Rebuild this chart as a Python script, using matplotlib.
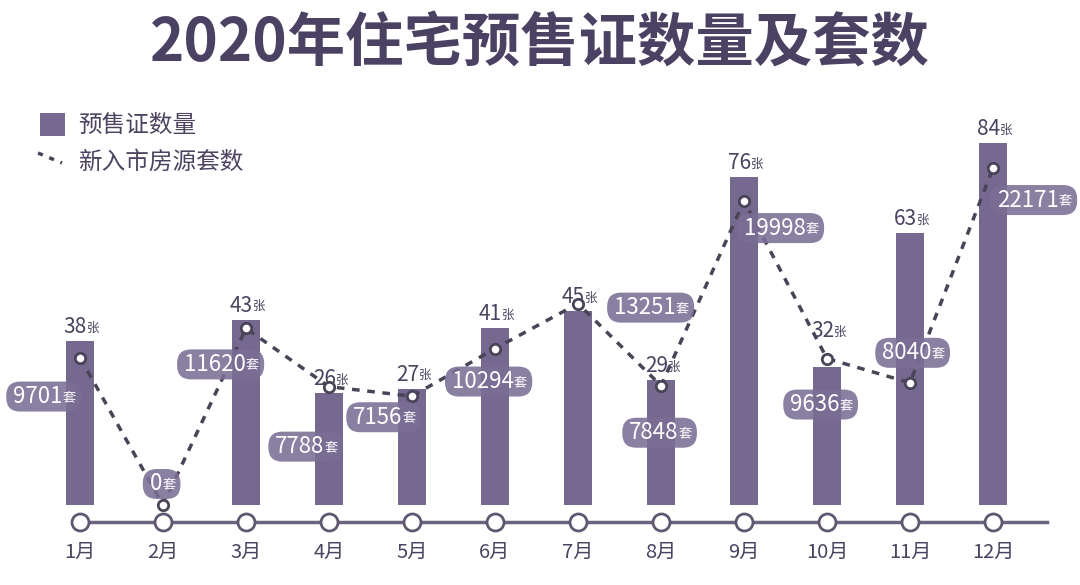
import matplotlib
matplotlib.use('Agg')
import matplotlib.pyplot as plt
from matplotlib.patches import FancyBboxPatch, Rectangle
from matplotlib.lines import Line2D
from matplotlib.transforms import IdentityTransform, Bbox

plt.rcParams['font.family'] = ['Noto Sans CJK SC', 'DejaVu Sans']

# 数据
months = ['1月', '2月', '3月', '4月', '5月', '6月', '7月', '8月', '9月', '10月', '11月', '12月']
permits = [38, 0, 43, 26, 27, 41, 45, 29, 76, 32, 63, 84]          # 预售证数量(张)
units = [9701, 0, 11620, 7788, 7156, 10294, 13251, 7848, 19998, 9636, 8040, 22171]  # 新入市房源套数

# 样式
bar_color = '#75698f'
dark = '#4b4360'
box_color = '#7a6e95'
line_color = '#4a4458'

# 标签框相对数据点的像素偏移 (dx, dy)，dy 向上为正
box_offsets = [(-35, -39), (0, 21), (-24, -36), (-22, -60), (-27, -21), (-5, -33),
               (74, -4), (0, -47), (38, -27), (-5, -46), (4, 30), (42, -32)]
bar_label_extra = [0, 0, 0, 0, 0, 0, 0, 0, 0, 22, 0, 0]

fig = plt.figure(figsize=(10.8, 5.85), dpi=100)
fig.patch.set_facecolor('white')
ax = fig.add_axes([0, 0, 1, 1])
ax2 = ax.twinx()
for a in (ax, ax2):
    a.axis('off')

x = list(range(len(months)))
ax.set_xlim(-80 / 83, 1000 / 83)
ax.set_ylim(-80 / 4.31, 505 / 4.31)
ax2.set_ylim(-80 * 65.8, 505 * 65.8)

# 柱状图
ax.bar(x, permits, width=0.33, color=bar_color, zorder=2)

# 底部时间轴
axis_y = -17 / 4.31
ax.plot([0, 11.65], [axis_y, axis_y], color='#6b6380', lw=2.5, zorder=3)
ax.scatter(x, [axis_y] * len(x), s=150, facecolor='white', edgecolor='#5f5870',
           linewidth=2, zorder=4)
for i, m in enumerate(months):
    ax.text(i, -47 / 4.31, m, ha='center', va='center', fontsize=14.5, color=dark)

# 柱顶标签
for i, v in enumerate(permits):
    if v == 0:
        continue
    num = ax.annotate(str(v), xy=(i, v), xytext=(7, 3 + bar_label_extra[i]),
                      textcoords='offset pixels', ha='right', va='bottom',
                      fontsize=15, color=dark, zorder=6)
    ax.annotate('张', xy=(1, 0.16), xycoords=num, ha='left', va='bottom',
                fontsize=9, color=dark, zorder=6)

# 折线
ax2.plot(x, units, ls=(0, (2.2, 2.2)), color=line_color, lw=2.5, zorder=3,
         marker='o', markersize=7.5, markerfacecolor='white',
         markeredgecolor=line_color, markeredgewidth=2)

# 套数标签
pairs = []
for i, v in enumerate(units):
    dx, dy = box_offsets[i]
    num = ax2.annotate(str(v), xy=(i, v), xytext=(dx - 7, dy),
                       textcoords='offset pixels', ha='center', va='center',
                       fontsize=16, color='white', zorder=6)
    tao = ax2.annotate('套', xy=(1, 0.18), xycoords=num, ha='left', va='bottom',
                       fontsize=9.5, color='white', zorder=6)
    pairs.append((num, tao))

fig.canvas.draw()
r = fig.canvas.get_renderer()
for num, tao in pairs:
    bb = Bbox.union([num.get_window_extent(r), tao.get_window_extent(r)])
    h = 30
    cy = (bb.y0 + bb.y1) / 2
    box = FancyBboxPatch((bb.x0 - 5, cy - h / 2 + 2), bb.width + 8, h - 4,
                         boxstyle='round,pad=2,rounding_size=14',
                         transform=IdentityTransform(), facecolor=box_color,
                         edgecolor='none', alpha=0.88, zorder=5)
    ax2.add_patch(box)

# 标题
fig.text(0.5, 1 - 45 / 585, '2020年住宅预售证数量及套数', ha='center', va='center',
         fontsize=42, fontweight='semibold', color='#4b4163')

# 图例
fig.add_artist(Rectangle((40 / 1080, 1 - 136 / 585), 25 / 1080, 23 / 585,
                         transform=fig.transFigure, facecolor=bar_color, edgecolor='none'))
fig.text(78 / 1080, 1 - 125 / 585, '预售证数量', ha='left', va='center',
         fontsize=17, fontweight='medium', color=dark)
fig.add_artist(Line2D([38 / 1080, 62 / 1080], [1 - 153 / 585, 1 - 163 / 585],
                      transform=fig.transFigure, color=line_color, lw=2.5,
                      ls=(0, (1.5, 2))))
fig.text(78 / 1080, 1 - 162 / 585, '新入市房源套数', ha='left', va='center',
         fontsize=17, fontweight='medium', color=dark)

fig.savefig('out.png', dpi=100)
